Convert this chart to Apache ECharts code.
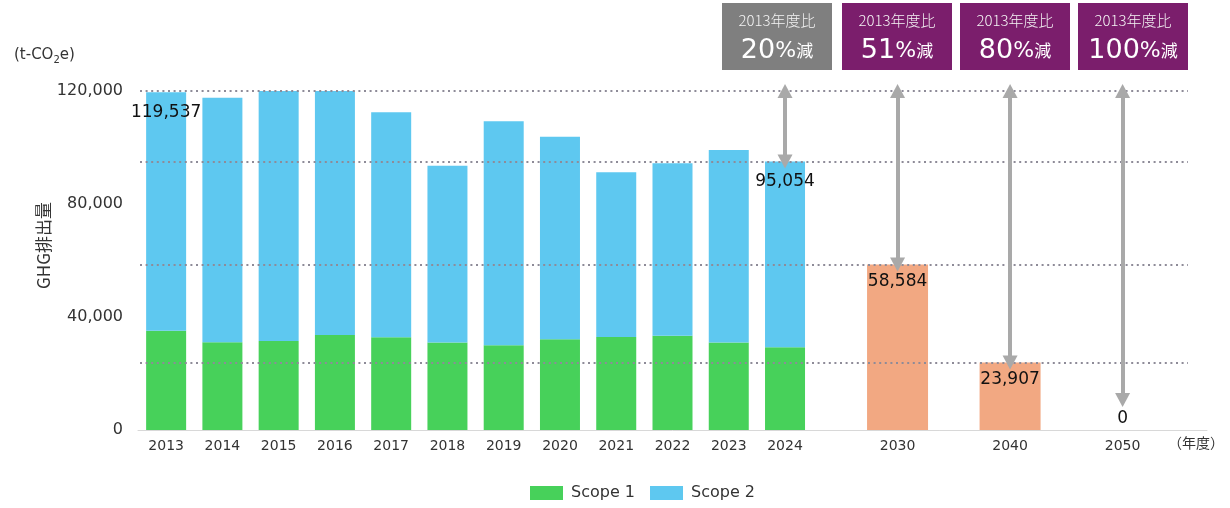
<!DOCTYPE html>
<html>
<head>
<meta charset="utf-8">
<script src="https://cdn.jsdelivr.net/npm/echarts@6/dist/echarts.min.js"></script>
<style>
html,body{margin:0;padding:0;background:#fff;}
#chart{width:1230px;height:508px;}
</style>
</head>
<body>
<div id="chart"></div>
<script>
// ---- data ----
const years = ['2013','2014','2015','2016','2017','2018','2019','2020','2021','2022','2023','2024'];
const targetYears = ['2030','2040','2050'];
const scope1 = [35100, 31100, 31500, 33600, 32800, 31000, 30000, 32100, 32900, 33400, 31000, 29300];
const scope2 = [84437, 86500, 88800, 86800, 79700, 62500, 79300, 71700, 58300, 61000, 68100, 65754];
const targets = [58584, 23907, 0];
const yTicks = [0, 40000, 80000, 120000];
const refLines = [120000, 95054, 58584, 23907];
const boxTitle = '2013年度比';
const boxPct = ['20', '51', '80', '100'];
const arrowEnd2050 = 10600;
const xUnit = '（年度）';

// categories: actual years, then target years separated by blank slots
const categories = years.concat(['', targetYears[0], ' ', targetYears[1], '  ', targetYears[2], '   ']);
const pad = n => new Array(n).fill('-');
const s1Data = scope1.concat(pad(7));
const s2Data = scope2.map((v, i) => {
  if (i === 0 || i === years.length - 1) {
    return { value: v, label: { show: true } };
  }
  return v;
}).concat(pad(7));
const tgtData = pad(13).concat([
  targets[0], '-', targets[1], '-',
  { value: targets[2], label: { show: true, position: 'top', distance: 3 } }, '-'
]);

const fontNum = '"DejaVu Sans", sans-serif';
const fontJP = '"Noto Sans CJK JP", sans-serif';

const chart = echarts.init(document.getElementById('chart'), null, { renderer: 'canvas' });

const lineMarks = refLines.map(v => [{ yAxis: v, x: 140 }, { yAxis: v, x: 1188 }]);
const arrowMarks = [
  [{ coord: [years[11], yTicks[3]] }, { coord: [years[11], refLines[1]] }],
  [{ coord: [targetYears[0], yTicks[3]] }, { coord: [targetYears[0], targets[0]] }],
  [{ coord: [targetYears[1], yTicks[3]] }, { coord: [targetYears[1], targets[1]] }],
  [{ coord: [targetYears[2], yTicks[3]] }, { coord: [targetYears[2], arrowEnd2050] }]
];

const boxX = [722, 842, 960, 1078];
const boxColors = ['#7f7f7f', '#7b1e6c', '#7b1e6c', '#7b1e6c'];
const graphics = boxPct.map((p, i) => ({
  type: 'group',
  left: boxX[i],
  top: 3,
  children: [
    { type: 'rect', shape: { x: 0, y: 0, width: 110, height: 67 }, style: { fill: boxColors[i] } },
    { type: 'text', x: 55, y: 17, style: { text: boxTitle, fill: '#f4f4f4', font: '300 15px ' + fontJP, align: 'center', verticalAlign: 'middle' } },
    { type: 'text', x: 55, y: 48, style: {
        text: '{n|' + p + '}{p|%}{k|減}',
        align: 'center', verticalAlign: 'middle',
        rich: {
          n: { fontSize: 27, fontFamily: fontNum, fill: '#fff', color: '#fff' },
          p: { fontSize: 22, fontFamily: fontNum, fill: '#fff', color: '#fff' },
          k: { fontSize: 17, fontFamily: fontJP, fill: '#fff', color: '#fff' }
        }
    } }
  ]
}));
graphics.push({
  type: 'text', left: 14, top: 48,
  style: {
    text: '(t-CO{s|2}e)',
    font: '15px ' + fontNum,
    fill: '#333',
    rich: { s: { fontSize: 10, fontFamily: fontNum, padding: [9, 0, 0, 0], fill: '#333' } }
  }
});
graphics.push({
  type: 'text', left: 1168, top: 436,
  style: { text: xUnit, font: '14px ' + fontJP, fill: '#333' }
});

const option = {
  backgroundColor: '#fff',
  animation: false,
  grid: { left: 138, right: 23, top: 91, bottom: 78, outerBoundsMode: 'none', containLabel: false },
  legend: {
    data: ['Scope 1', 'Scope 2'],
    left: 530, top: 485, padding: 0,
    itemWidth: 33, itemHeight: 14, itemGap: 15,
    icon: 'rect',
    textStyle: { fontSize: 16, color: '#333', fontFamily: fontNum, padding: [0, 0, 0, 3] }
  },
  xAxis: [
    {
      type: 'category', data: categories,
      axisLine: { lineStyle: { color: '#d8d8d8', width: 1 } },
      axisTick: { show: false },
      axisLabel: { interval: 0, fontSize: 14, color: '#333', margin: 9, fontFamily: fontNum }
    },
    { type: 'category', data: categories, show: false }
  ],
  yAxis: {
    type: 'value', min: 0, max: 120000, interval: 40000,
    axisLine: { show: false }, axisTick: { show: false },
    splitLine: { show: false },
    axisLabel: {
      fontSize: 16, color: '#333', margin: 15, fontFamily: fontNum,
      formatter: v => v.toLocaleString('en-US')
    },
    name: 'GHG排出量',
    nameLocation: 'middle',
    nameGap: 86,
    nameMoveOverlap: false,
    nameTextStyle: { fontSize: 17, color: '#333', fontFamily: fontJP, padding: [0, 0, 0, 30] }
  },
  graphic: graphics,
  series: [
    {
      name: 'Scope 1', type: 'bar', stack: 'total', data: s1Data,
      barWidth: 40, itemStyle: { color: '#47d15a' }
    },
    {
      name: 'Scope 2', type: 'bar', stack: 'total', data: s2Data,
      barWidth: 40, itemStyle: { color: '#5ec8f0' },
      label: {
        show: false, position: 'insideTop', distance: 12,
        fontSize: 17, color: '#111', fontFamily: fontNum,
        formatter: p => (scope1[p.dataIndex] + scope2[p.dataIndex]).toLocaleString('en-US')
      },
      markLine: {
        silent: true, symbol: 'none', animation: false,
        label: { show: false },
        lineStyle: { color: '#8e8b98', width: 2, type: [2, 3.6] },
        data: lineMarks
      },
      z: 2
    },
    {
      name: 'target', type: 'bar', xAxisIndex: 1, data: tgtData,
      barWidth: 61, itemStyle: { color: '#f2a882' },
      label: {
        show: true, position: 'insideTop', distance: 9,
        fontSize: 17, color: '#111', fontFamily: fontNum,
        formatter: p => p.value.toLocaleString('en-US')
      },
      markLine: {
        silent: true, symbol: ['triangle', 'triangle'], symbolSize: [15, 14],
        animation: false, label: { show: false },
        lineStyle: { color: '#a9a9a9', width: 4, type: 'solid' },
        data: arrowMarks
      }
    }
  ]
};
chart.setOption(option);
</script>
</body>
</html>
